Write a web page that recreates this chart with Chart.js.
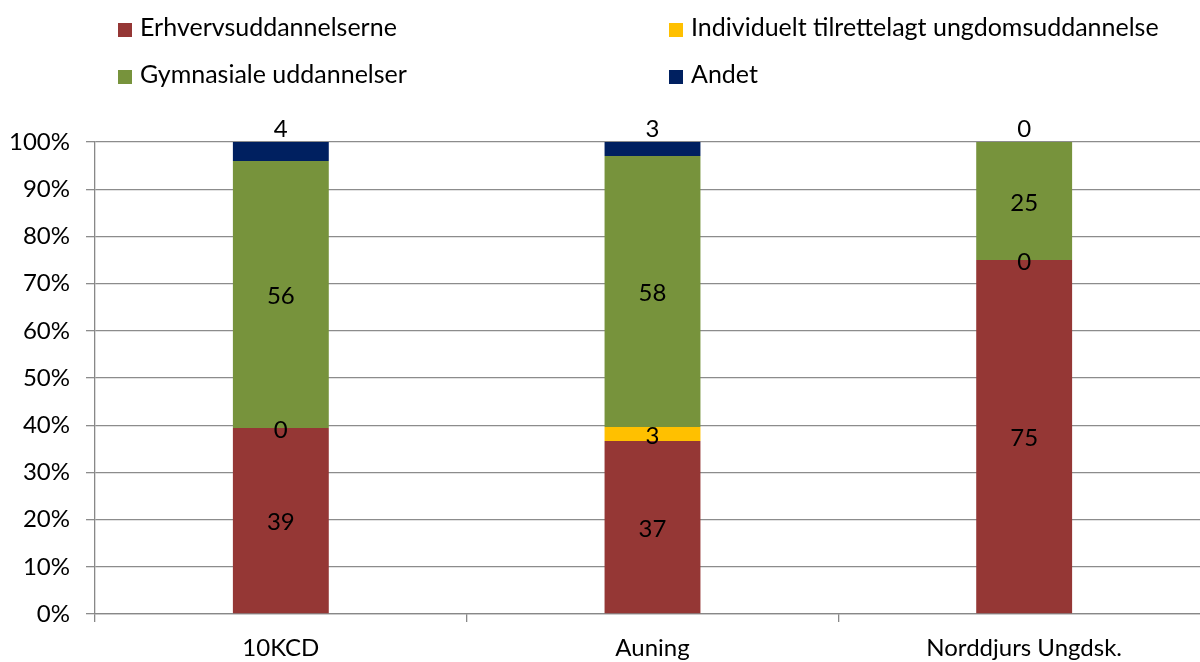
<!DOCTYPE html>
<html lang="da">
<head>
<meta charset="utf-8">
<style>
  html, body { margin: 0; padding: 0; background: #fff; overflow: hidden; }
  #wrap { position: relative; width: 1200px; height: 662px; overflow: hidden; }
  #chartBox { position: absolute; left: 0; top: 0; width: 1212px; height: 662px; }
  .leg { position: absolute; font-family: Lato, sans-serif; font-size: 25px; color: #000; white-space: nowrap; line-height: 28px; }
  .leg span { display: inline-block; width: 14px; height: 14px; margin-right: 8px; vertical-align: -1px; }
</style>
</head>
<body>
<div id="wrap">
  <div id="chartBox"><canvas id="myChart" width="1212" height="662"></canvas></div>
  <div id="legend"></div>
</div>

<script src="https://cdn.jsdelivr.net/npm/chart.js"></script>
<script>
    const categories = ['10KCD', 'Auning', 'Norddjurs Ungdsk.'];
    const seriesNames = ['Erhvervsuddannelserne', 'Individuelt tilrettelagt ungdomsuddannelse', 'Gymnasiale uddannelser', 'Andet'];
    const erhverv = [39, 37, 75];
    const individuelt = [0, 3, 0];
    const gymnasiale = [56, 58, 25];
    const andet = [4, 3, 0];
    const colors = ['#953735', '#FFC000', '#77933C', '#002060'];
    const yTicks = [0, 10, 20, 30, 40, 50, 60, 70, 80, 90, 100];

    const raw = [erhverv, individuelt, gymnasiale, andet];
    const totals = categories.map((c, i) => raw.reduce((s, arr) => s + arr[i], 0));

    // legend: 2 columns, 2 rows (order as in the picture)
    const legendPos = [[118, 12], [669, 12], [118, 59], [669, 59]];
    const legendEl = document.getElementById('legend');
    seriesNames.forEach((name, s) => {
        const d = document.createElement('div');
        d.className = 'leg';
        d.style.left = legendPos[s][0] + 'px';
        d.style.top = legendPos[s][1] + 'px';
        d.innerHTML = '<span style="background:' + colors[s] + '"></span>' + name;
        legendEl.appendChild(d);
    });

    const barLabels = {
        id: 'barLabels',
        afterDatasetsDraw(chart) {
            const c = chart.ctx;
            c.save();
            c.font = '24px Lato, sans-serif';
            c.fillStyle = '#000';
            c.textAlign = 'center';
            c.textBaseline = 'middle';
            const last = chart.data.datasets.length - 1;
            chart.data.datasets.forEach((ds, di) => {
                chart.getDatasetMeta(di).data.forEach((el, i) => {
                    let y = (el.y + el.base) / 2 + 2;
                    if (di === last) y = el.y - 13;
                    c.fillText(String(raw[di][i]), el.x, y);
                });
            });
            c.restore();
        }
    };

    const ctx = document.getElementById('myChart');

    new Chart(ctx, {
        type: 'bar',
        data: {
            labels: categories,
            datasets: seriesNames.map((name, s) => ({
                label: name,
                data: raw[s].map((v, i) => v / totals[i] * 100),
                backgroundColor: colors[s],
                borderWidth: 0,
                categoryPercentage: 1,
                barPercentage: 0.258
            }))
        },
        options: {
            responsive: false,
            animation: false,
            layout: { padding: { top: 142, left: 0, right: 2, bottom: 0 } },
            plugins: { legend: { display: false }, tooltip: { enabled: false } },
            scales: {
                x: {
                    stacked: true,
                    grid: { drawOnChartArea: false, color: '#888', tickLength: 8, lineWidth: 1.3 },
                    border: { color: '#888', width: 1.3 },
                    ticks: { color: '#000', font: { family: 'Lato', size: 24 }, padding: 12 },
                    afterFit(scale) { scale.height = 48; }
                },
                y: {
                    stacked: true,
                    min: 0,
                    max: 100,
                    afterBuildTicks(scale) { scale.ticks = yTicks.map(v => ({ value: v })); },
                    grid: { color: '#8c8c8c', tickLength: 9, lineWidth: 1.3 },
                    border: { color: '#888', width: 1.3 },
                    ticks: {
                        color: '#000',
                        font: { family: 'Lato', size: 24 },
                        padding: 16,
                        callback: v => v + '%'
                    },
                    afterFit(scale) { scale.width = 95; }
                }
            }
        },
        plugins: [barLabels]
    });
</script>
</body>
</html>
